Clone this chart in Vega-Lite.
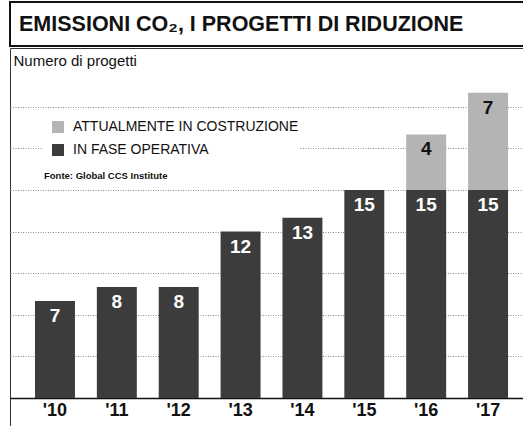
{
  "$schema": "https://vega.github.io/schema/vega-lite/v6.json",
  "padding": {"left": 9, "top": 1, "right": 0, "bottom": 2},
  "background": "white",
  "spacing": 0,
  "vconcat": [
    {
      "width": 514,
      "height": 44,
      "view": {"stroke": "#111", "strokeWidth": 2},
      "data": {"values": [{"titolo": "EMISSIONI CO₂, I PROGETTI DI RIDUZIONE"}]},
      "mark": {"type": "text", "align": "left", "baseline": "middle", "font": "Liberation Sans", "fontWeight": "bold", "fontSize": 21.5, "color": "#111", "dx": 9, "dy": 1},
      "encoding": {
        "x": {"field": "titolo", "type": "nominal", "scale": {"type": "point", "padding": 0, "align": 0}, "axis": null},
        "text": {"field": "titolo"}
      }
    },
    {
      "width": 514,
      "height": 378,
      "view": {"stroke": "#333", "strokeWidth": 1},
      "data": {
        "values": [
          {"anno": "'10", "stato": "IN FASE OPERATIVA", "n": 7, "ordine": 1},
          {"anno": "'11", "stato": "IN FASE OPERATIVA", "n": 8, "ordine": 1},
          {"anno": "'12", "stato": "IN FASE OPERATIVA", "n": 8, "ordine": 1},
          {"anno": "'13", "stato": "IN FASE OPERATIVA", "n": 12, "ordine": 1},
          {"anno": "'14", "stato": "IN FASE OPERATIVA", "n": 13, "ordine": 1},
          {"anno": "'15", "stato": "IN FASE OPERATIVA", "n": 15, "ordine": 1},
          {"anno": "'16", "stato": "IN FASE OPERATIVA", "n": 15, "ordine": 1},
          {"anno": "'17", "stato": "IN FASE OPERATIVA", "n": 15, "ordine": 1},
          {"anno": "'16", "stato": "ATTUALMENTE IN COSTRUZIONE", "n": 4, "ordine": 2},
          {"anno": "'17", "stato": "ATTUALMENTE IN COSTRUZIONE", "n": 7, "ordine": 2}
        ]
      },
      "encoding": {
        "x": {
          "field": "anno", "type": "ordinal", "sort": "ascending",
          "scale": {"paddingInner": 0.354, "paddingOuter": 0.331, "align": 0.61},
          "axis": {"title": null, "offset": -28, "labelFont": "Liberation Sans", "labelFontWeight": "bold", "labelFontSize": 18, "labelColor": "#111", "labelPadding": 3, "ticks": false, "domainColor": "#111", "domainWidth": 1.5, "labelAngle": 0, "grid": false}
        }
      },
      "layer": [
        {
          "mark": {"type": "bar"},
          "encoding": {
            "y": {
              "field": "n", "type": "quantitative", "stack": "zero",
              "scale": {"domain": [-2.02, 25.23], "nice": false, "zero": false},
              "axis": {
                "values": [3, 6, 9, 12, 15, 18, 21], "labels": false, "ticks": false, "domain": false,
                "grid": true, "gridColor": "#8a8a8a", "gridDash": [1, 1.5], "gridWidth": 1,
                "title": "Numero di progetti", "titleAngle": 0, "titleAlign": "left", "titleBaseline": "alphabetic",
                "titleX": 3, "titleY": 17, "titleFont": "Liberation Sans", "titleFontSize": 15, "titleFontWeight": "normal", "titleColor": "#111"
              }
            },
            "color": {
              "field": "stato", "type": "nominal",
              "scale": {"domain": ["ATTUALMENTE IN COSTRUZIONE", "IN FASE OPERATIVA"], "range": ["#b4b4b4", "#3c3c3c"]},
              "legend": {
                "orient": "none", "legendX": 33, "legendY": 117,
                "title": "Fonte: Global CCS Institute", "titleOrient": "bottom", "titleAnchor": "start",
                "titleFont": "Liberation Sans", "titleFontSize": 9.5, "titleFontWeight": "bold", "titleColor": "#111", "titlePadding": 14,
                "symbolType": "square", "symbolSize": 144, "symbolStrokeWidth": 0, "symbolOffset": 7, "symbolOpacity": 1,
                "labelFont": "Liberation Sans", "labelFontSize": 14, "labelColor": "#111", "labelOffset": 8, "labelLimit": 400, "rowPadding": 9,
                "fillColor": "white", "padding": 1
              }
            },
            "order": {"field": "ordine", "type": "quantitative"}
          }
        },
        {
          "mark": {"type": "text", "baseline": "top", "dy": 6, "font": "Liberation Sans", "fontWeight": "bold", "fontSize": 19},
          "encoding": {
            "y": {"field": "n", "type": "quantitative", "stack": "zero"},
            "detail": {"field": "stato"},
            "order": {"field": "ordine", "type": "quantitative"},
            "text": {"field": "n", "type": "quantitative"},
            "color": {"condition": {"test": "datum.stato === 'IN FASE OPERATIVA'", "value": "white"}, "value": "#111"}
          }
        }
      ]
    }
  ]
}
